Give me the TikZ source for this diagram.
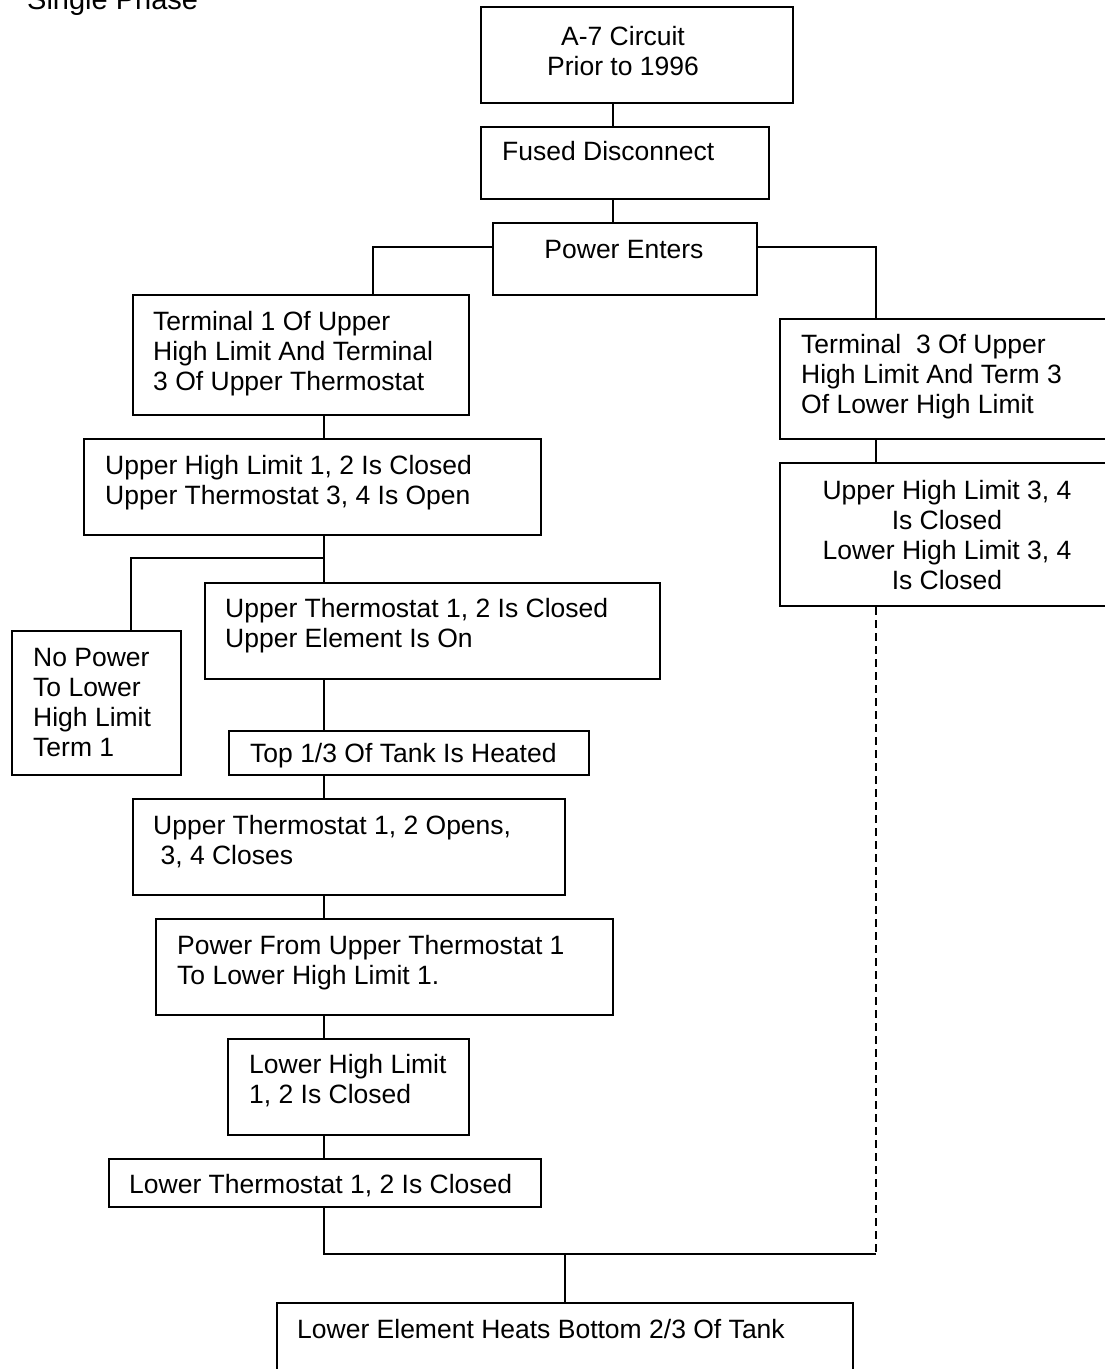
\documentclass[tikz,border=0pt]{standalone}
\usepackage{fontspec}
\setmainfont{Liberation Sans}
\usetikzlibrary{calc}

\begin{document}
\begin{tikzpicture}[x=1pt, y=-1pt,
  box/.style={draw, line width=2pt, inner sep=0pt, anchor=north west},
  words/.style={inner sep=0pt, anchor=base west, align=left,
                font=\fontsize{26.5}{30}\selectfont},
  midwords/.style={words, anchor=base, align=center},
  link/.style={line width=2pt},
  dashlink/.style={link, dash pattern=on 8pt off 5pt},
]
\useasboundingbox (0,0) rectangle (1105,1369);
\clip (0,0) rectangle (1105,1369);

% heading (cut at the top edge)
\node[words, font=\fontsize{29}{33}\selectfont] (phase) at (27,9) {Single Phase};

% ── top of the chain ────────────────────────────────────────────────────
\node[box, minimum width=312, minimum height=96] (a7) at (480,6) {};
\node[midwords] (a7t) at (623,75) {A-7 Circuit\\Prior to 1996};
\node[box, minimum width=288, minimum height=72] (fd) at (480,126) {};
\node[words] (fdt) at (502,160) {Fused Disconnect};
\node[box, minimum width=264, minimum height=72] (pe) at (492,222) {};
\node[midwords] (pet) at (624,258) {Power Enters};

% ── left branch ─────────────────────────────────────────────────────────
\node[box, minimum width=336, minimum height=120] (t1) at (132,294) {};
\node[words] (t1t) at (153,390)
      {Terminal 1 Of Upper\\High Limit And Terminal\\3 Of Upper Thermostat};
\node[box, minimum width=457, minimum height=96] (uhl) at (83,438) {};
\node[words] (uhlt) at (105,504)
      {Upper High Limit 1, 2 Is Closed\\Upper Thermostat 3, 4 Is Open};
\node[box, minimum width=169, minimum height=144] (np) at (11,630) {};
\node[words] (npt) at (33,756) {No Power\\To Lower\\High Limit\\Term 1};
\node[box, minimum width=455, minimum height=96] (ut) at (204,582) {};
\node[words] (utt) at (225,647)
      {Upper Thermostat 1, 2 Is Closed\\Upper Element Is On};
\node[box, minimum width=360, minimum height=44] (top) at (228,730) {};
\node[words] (topt) at (250,762) {Top 1/3 Of Tank Is Heated};
\node[box, minimum width=432, minimum height=96] (uto) at (132,798) {};
\node[words] (utot) at (153,864)
      {Upper Thermostat 1, 2 Opens,\\\ 3, 4 Closes};
\node[box, minimum width=457, minimum height=96] (pf) at (155,918) {};
\node[words] (pft) at (177,984)
      {Power From Upper Thermostat 1\\To Lower High Limit 1.};
\node[box, minimum width=241, minimum height=96] (lhl) at (227,1038) {};
\node[words] (lhlt) at (249,1103) {Lower High Limit\\1, 2 Is Closed};
\node[box, minimum width=432, minimum height=48] (lt) at (108,1158) {};
\node[words] (ltt) at (129,1193) {Lower Thermostat 1, 2 Is Closed};
\node[box, minimum width=576, minimum height=120] (le) at (276,1302) {};
\node[words] (let) at (297,1338) {Lower Element Heats Bottom 2/3 Of Tank};

% ── right branch ────────────────────────────────────────────────────────
\node[box, minimum width=345, minimum height=120] (t3) at (779,318) {};
\node[words] (t3t) at (801,413)
      {Terminal\ \ 3 Of Upper\\High Limit And Term 3\\Of Lower High Limit};
\node[box, minimum width=345, minimum height=143] (uhr) at (779,462) {};
\node[midwords] (uhrt) at (947,589)
      {Upper High Limit 3, 4\\Is Closed\\Lower High Limit 3, 4\\Is Closed};

% ── wiring ──────────────────────────────────────────────────────────────
\coordinate (spine) at (324,558);
\coordinate (join) at (876,1254);

\draw[link] ([xshift=-12]fd.north) -- ([xshift=-12]fd.north |- a7.south);
\draw[link] ([xshift=-12]fd.south) -- ([xshift=-12]fd.south |- pe.north);
\draw[link] ([yshift=12]pe.west) -| ([xshift=72]t1.north);
\draw[link] ([yshift=12]pe.east) -| ([xshift=97]t3.north west);

\draw[link] (t1.south -| spine) -- (uhl.north -| spine);
\draw[link] (uhl.south -| spine) -- (spine) -| ([xshift=120]np.north west);
\draw[link] (spine) -- (ut.north -| spine);
\draw[link] (ut.south -| spine) -- (top.north -| spine);
\draw[link] (top.south -| spine) -- (uto.north -| spine);
\draw[link] (uto.south -| spine) -- (pf.north -| spine);
\draw[link] (pf.south -| spine) -- (lhl.north -| spine);
\draw[link] (lhl.south -| spine) -- (lt.north -| spine);
\draw[link] (lt.south -| spine) |- (join);
\draw[link] (le.north) -- (le.north |- join);

\draw[link] ([xshift=97]t3.south west) -- ([xshift=97]uhr.north west);
\draw[dashlink] ([xshift=97]uhr.south west) -- (join);

\end{tikzpicture}
\end{document}
